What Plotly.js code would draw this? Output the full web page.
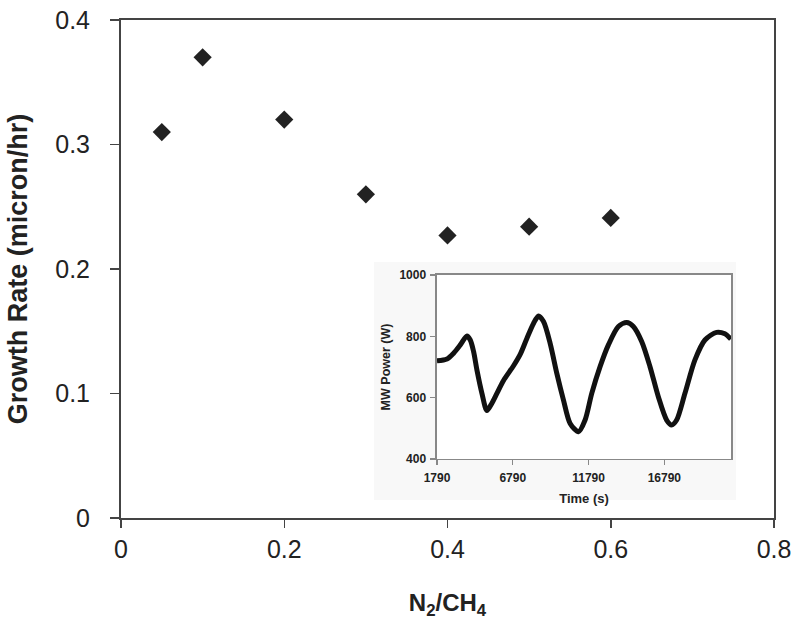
<!DOCTYPE html>
<html>
<head>
<meta charset="utf-8">
<script src="https://cdn.plot.ly/plotly-3.0.1.min.js"></script>
<style>html,body{margin:0;padding:0;background:#fff;}#chart{width:800px;height:639px;}</style>
</head>
<body>
<div id="chart"></div>
<script>
// Main chart data
const ratioN2CH4 = [0.05, 0.1, 0.2, 0.3, 0.4, 0.5, 0.6];
const growthRate = [0.31, 0.37, 0.32, 0.26, 0.227, 0.234, 0.241];

// Inset data: MW power vs time
const timeS = [1790, 2449, 2888, 3327, 3766, 3986, 4206, 4425, 4755, 5084, 5413, 5743, 6182, 6841, 7280, 7719, 8158, 8488, 8817, 9256, 9696, 10135, 10574, 11123, 11562, 12001, 12550, 13099, 13758, 14307, 14746, 15295, 15844, 16393, 16942, 17272, 17601, 18150, 18809, 19468, 20236, 20785, 21180];
const powerW = [720, 726, 745, 772, 801, 788, 750, 690, 614, 558, 582, 614, 656, 704, 741, 793, 842, 866, 848, 777, 679, 592, 516, 489, 527, 614, 701, 772, 832, 845, 832, 783, 701, 603, 527, 511, 527, 614, 723, 788, 813, 808, 791];

const mainXTicks = [0, 0.2, 0.4, 0.6, 0.8];
const mainXLabels = ['0', '0.2', '0.4', '0.6', '0.8'];
const mainYTicks = [0, 0.1, 0.2, 0.3, 0.4];
const mainYLabels = ['0', '0.1', '0.2', '0.3', '0.4'];
const insetXTicks = [1790, 6790, 11790, 16790];
const insetXLabels = ['1790', '6790', '11790', '16790'];
const insetYTicks = [400, 600, 800, 1000];
const insetYLabels = ['400', '600', '800', '1000'];

const mainX = [0, 0.8];
const mainY = [0, 0.4];
const insetX = [1790, 21190];
const insetY = [400, 1000];

const traces = [
  {
    x: ratioN2CH4, y: growthRate, type: 'scatter', mode: 'markers',
    marker: {symbol: 'diamond', size: 14, color: '#222'},
    xaxis: 'x', yaxis: 'y', hoverinfo: 'skip'
  },
  {
    x: timeS, y: powerW, type: 'scatter', mode: 'lines',
    line: {color: '#111', width: 5, shape: 'spline', smoothing: 0.8},
    xaxis: 'x2', yaxis: 'y2', hoverinfo: 'skip'
  }
];

const layout = {
  width: 800, height: 639,
  margin: {l: 121, r: 26, t: 20, b: 121},
  paper_bgcolor: '#fff', plot_bgcolor: 'rgba(0,0,0,0)',
  showlegend: false,
  font: {family: 'Liberation Sans, Arial, sans-serif', color: '#222'},
  xaxis: {
    range: mainX, tickvals: mainXTicks, ticktext: mainXLabels,
    showgrid: false, zeroline: false, showline: true, mirror: true,
    linecolor: '#444', linewidth: 2, ticks: 'outside', ticklen: 8, tickwidth: 1.5, tickcolor: '#444',
    tickfont: {size: 25, color: '#222'}, ticklabelstandoff: 0,
    title: {text: 'N<sub>2</sub>/CH<sub>4</sub>', font: {size: 24, color: '#222', weight: 'bold'}, standoff: 32},
    automargin: false
  },
  yaxis: {
    range: mainY, tickvals: mainYTicks, ticktext: mainYLabels,
    showgrid: false, zeroline: false, showline: true, mirror: true,
    linecolor: '#444', linewidth: 2, ticks: 'outside', ticklen: 9, tickwidth: 1.5, tickcolor: '#444',
    tickfont: {size: 25, color: '#222'}, ticklabelstandoff: 15,
    title: {text: 'Growth Rate (micron/hr)', font: {size: 27, color: '#222', weight: 'bold'}, standoff: 20},
    automargin: false
  },
  xaxis2: {
    domain: [0.4839, 0.9342], anchor: 'y2', range: insetX,
    tickvals: insetXTicks, ticktext: insetXLabels,
    showgrid: false, zeroline: false, showline: true, mirror: true,
    linecolor: '#888', linewidth: 1.5, ticks: 'outside', ticklen: 5, tickwidth: 1.2, tickcolor: '#888',
    tickfont: {size: 12, color: '#222', weight: 'bold'}, ticklabelstandoff: 2,
    title: {text: 'Time (s)', font: {size: 13, color: '#222', weight: 'bold'}, standoff: 10}
  },
  yaxis2: {
    domain: [0.1185, 0.488], anchor: 'x2', range: insetY,
    tickvals: insetYTicks, ticktext: insetYLabels,
    showgrid: false, zeroline: false, showline: true, mirror: true,
    linecolor: '#888', linewidth: 1.5, ticks: 'outside', ticklen: 5, tickwidth: 1.2, tickcolor: '#888',
    tickfont: {size: 12, color: '#222', weight: 'bold'}, ticklabelstandoff: 2,
    title: {text: 'MW Power (W)', font: {size: 12.5, color: '#222', weight: 'bold'}, standoff: 6}
  },
  shapes: [
    {type: 'rect', xref: 'paper', yref: 'paper', x0: 0.3874, x1: 0.9418, y0: 0.0361, y1: 0.5141,
     fillcolor: '#f8f8f8', line: {width: 0}, layer: 'below'},
    {type: 'rect', xref: 'x2 domain', yref: 'y2 domain', x0: 0, x1: 1, y0: 0, y1: 1,
     fillcolor: '#ffffff', line: {width: 0}, layer: 'below'}
  ]
};

Plotly.newPlot('chart', traces, layout, {displayModeBar: false, staticPlot: true});
</script>
</body>
</html>
